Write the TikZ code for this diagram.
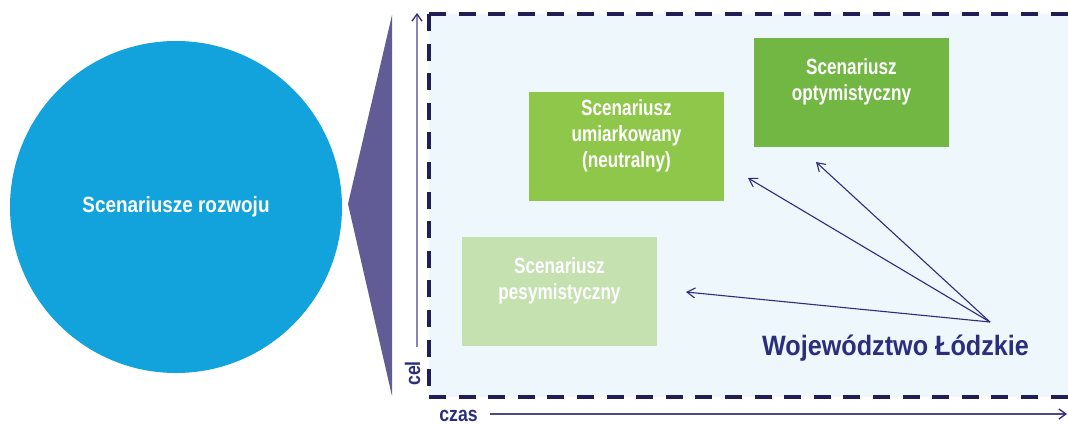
\documentclass[tikz,border=0pt]{standalone}
\usepackage{fontspec}
\setmainfont{Liberation Sans}
\newfontfamily\condA[FakeStretch=0.78]{Liberation Sans}
\newfontfamily\condB[FakeStretch=0.86]{Liberation Sans}
\newfontfamily\condW[FakeStretch=0.9]{Liberation Sans}
\newfontfamily\condC[FakeStretch=0.84]{Liberation Sans}
\usetikzlibrary{arrows.meta}
\definecolor{circc}{HTML}{12A3DC}
\definecolor{tric}{HTML}{625C96}
\definecolor{panelc}{HTML}{EEF7FB}
\definecolor{dashc}{HTML}{201E55}
\definecolor{navyc}{HTML}{2B2E7C}
\definecolor{axisvc}{HTML}{8884B8}
\definecolor{axishc}{HTML}{4C4A8C}
\definecolor{pesc}{HTML}{C6E1B0}
\definecolor{umic}{HTML}{8FC74B}
\definecolor{optc}{HTML}{72B744}
\begin{document}
\begin{tikzpicture}[x=1pt,y=-1pt,
  scenbox/.style={rectangle, inner sep=0pt, minimum width=195pt, minimum height=109pt,
    text=white, font=\condA\bfseries\fontsize{22}{26}\selectfont},
  pointer/.style={draw=navyc, line width=1.1pt, -{Straight Barb[length=8pt,width=10pt]}},
  axisline/.style={line width=1.3pt, -{Straight Barb[length=7pt,width=10pt,color=navyc]}},
  dashedge/.style={draw=dashc, line width=4.5pt, dash pattern=on 17pt off 12.6pt},
  axislabel/.style={text=navyc, font=\condC\bfseries\fontsize{21}{24}\selectfont, inner sep=0pt},
]
\useasboundingbox (0,0) rectangle (1068,424);
\clip (0,0) rectangle (1068,424);
% panel
\fill[panelc] (429,14) rectangle (1090,397);
\draw[dashedge] (429,14) -- (1090,14);
\draw[dashedge] (429,14) -- (429,397);
\draw[dashedge] (429,397) -- (1090,397);
% circle and wedge
\node[circle, fill=circc, minimum size=332pt, inner sep=0pt, text=white,
  font=\condB\bfseries\fontsize{22}{26}\selectfont] (main) at (176,207) {Scenariusze rozwoju};
\fill[tric] (348,204) -- (392,15) -- (392,396) -- cycle;
% axes
\coordinate (celS) at (417,347);
\coordinate (celE) at (417,13);
\draw[axisline, draw=axisvc] (celS) -- (celE);
\node[axislabel, rotate=90, anchor=base] (cel) at (420,373.5) {cel};
\coordinate (czS) at (490,414);
\coordinate (czE) at (1067,414);
\draw[axisline, draw=axishc] (czS) -- (czE);
\node[axislabel, anchor=base] (czas) at (458.5,421) {czas};
% scenario boxes
\node[scenbox, fill=pesc] (pes) at (559.5,291.5)
  {\parbox[c]{195pt}{\centering Scenariusz\\pesymistyczny\par\vspace{22pt}}};
\node[scenbox, fill=umic] (umi) at (626.5,146.5)
  {\parbox[c]{195pt}{\centering Scenariusz\\umiarkowany\\(neutralny)\par\vspace{22pt}}};
\node[scenbox, fill=optc] (opt) at (851.5,92.5)
  {\parbox[c]{195pt}{\centering Scenariusz\\optymistyczny\par\vspace{22pt}}};
% region label and pointers
\node[text=navyc, font=\condW\bfseries\fontsize{28}{32}\selectfont, anchor=base, inner sep=0pt]
  (woj) at (895.5,355) {Województwo Łódzkie};
\coordinate (src) at (990,322);
\coordinate (tPes) at (686,292);
\coordinate (tUmi) at (748,178);
\coordinate (tOpt) at (816,162);
\draw[pointer] (src) -- (tPes);
\draw[pointer] (src) -- (tUmi);
\draw[pointer] (src) -- (tOpt);
\end{tikzpicture}
\end{document}
